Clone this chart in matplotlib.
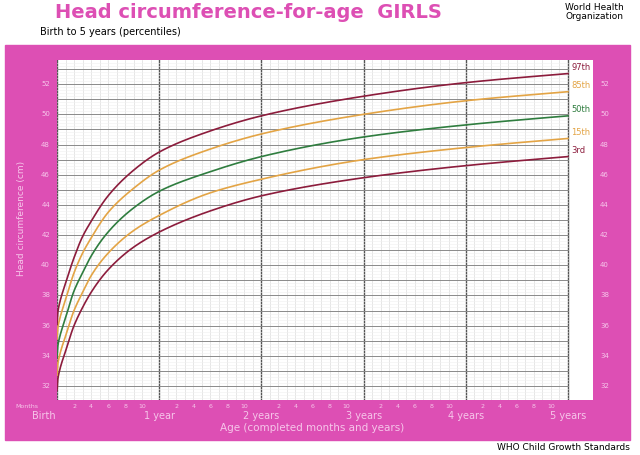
import matplotlib
matplotlib.use("Agg")
import matplotlib.pyplot as plt
import numpy as np

months = [0, 1, 2, 3, 4, 6, 9, 12, 18, 24, 36, 48, 60]
p3  = [31.7, 34.3, 36.0, 37.2, 38.2, 39.7, 41.2, 42.2, 43.6, 44.6, 45.8, 46.6, 47.2]
p15 = [32.7, 35.3, 37.0, 38.2, 39.3, 40.8, 42.3, 43.3, 44.8, 45.7, 47.0, 47.8, 48.4]
p50 = [33.9, 36.5, 38.3, 39.5, 40.6, 42.2, 43.8, 44.9, 46.2, 47.2, 48.5, 49.3, 49.9]
p85 = [35.1, 37.7, 39.5, 40.8, 41.8, 43.5, 45.1, 46.3, 47.7, 48.7, 50.0, 50.9, 51.5]
p97 = [36.1, 38.8, 40.5, 41.9, 42.9, 44.6, 46.3, 47.5, 48.9, 49.9, 51.2, 52.1, 52.7]
labels = ["3rd", "15th", "50th", "85th", "97th"]
year_labels = ["Birth", "1 year", "2 years", "3 years", "4 years", "5 years"]

PINK = "#dd4fb4"
LBL = "#f6c6ea"
dark = "#8c1c3c"; orange = "#e3a445"; green = "#2f7d3f"
colors = [dark, orange, green, orange, dark]

def pchip(x, y, xn):
    x = np.asarray(x, float); y = np.asarray(y, float)
    h = np.diff(x); d = np.diff(y) / h
    m = np.zeros_like(y)
    for k in range(1, len(x)-1):
        if d[k-1]*d[k] > 0:
            w1 = 2*h[k] + h[k-1]; w2 = h[k] + 2*h[k-1]
            m[k] = (w1 + w2) / (w1/d[k-1] + w2/d[k])
    m[0] = d[0]; m[-1] = d[-1]
    idx = np.clip(np.searchsorted(x, xn) - 1, 0, len(x)-2)
    t = (xn - x[idx]) / h[idx]
    h00 = 2*t**3 - 3*t**2 + 1; h10 = t**3 - 2*t**2 + t
    h01 = -2*t**3 + 3*t**2; h11 = t**3 - t**2
    return h00*y[idx] + h10*h[idx]*m[idx] + h01*y[idx+1] + h11*h[idx]*m[idx+1]

fig = plt.figure(figsize=(6.4, 4.55), dpi=100)
fig.patches.append(plt.Rectangle((5/640, 15/455), 625/640, 395/455, transform=fig.transFigure,
                                 color=PINK, zorder=-5))
fig.text(55/640, 1-12/455, "Head circumference-for-age  GIRLS", color=PINK, fontsize=14,
         fontweight="bold", va="center")
fig.text(40/640, 1-32/455, "Birth to 5 years (percentiles)", fontsize=7, va="center")
fig.text(565/640, 1-12/455, "World Health\nOrganization", fontsize=6.5, va="center", linespacing=0.95)
fig.text(630/640, 1-448/455, "WHO Child Growth Standards", fontsize=6.5, ha="right", va="center")

x0, x1 = 57/640, 593/640
y0, y1 = 1-400/455, 1-60/455
ax = fig.add_axes([x0, y0, x1-x0, y1-y0])
ax.set_zorder(5)
ax.set_facecolor("white")
xmax = 60 + 25*(60/511)
ax.set_xlim(0, xmax)
ax.set_ylim(31.07, 53.6)
for m in range(0, 61):
    ax.plot([m, m], [31.07, 53.6], color="#555555" if m % 12 == 0 else "#dcdcdc",
            lw=1.0 if m % 12 == 0 else 0.5, zorder=1)
for v in np.arange(31.2, 53.6, 0.2):
    r = round(v, 1)
    if abs(r - round(r)) < 1e-6:
        ax.plot([0, 60], [r, r], color="#8a8a8a", lw=0.7, zorder=1)
    else:
        ax.plot([0, 60], [r, r], color="#f0f0f0", lw=0.4, zorder=1)
t = np.sqrt(np.array(months, float))
mm = np.linspace(0, 60, 600)
for s, c, l in zip([p3, p15, p50, p85, p97], colors, labels):
    ys = pchip(t, s, np.sqrt(mm))
    ax.plot(mm, ys, color=c, lw=1.2, zorder=3)
    ax.text(60.4, s[-1]+0.1, l, fontsize=6, color=c, va="bottom")
ax.set_xticks([]); ax.set_yticks([])
for sp in ax.spines.values():
    sp.set_visible(False)

for v in range(32, 53, 2):
    yf = y0 + (v-31.07)/(53.6-31.07)*(y1-y0)
    fig.text(50/640, yf, str(v), fontsize=5, color=LBL, ha="right", va="center")
    fig.text(600/640, yf, str(v), fontsize=5, color=LBL, ha="left", va="center")
def xf(m): return x0 + m/xmax*(x1-x0)
fig.text(15/640, 1-407/455, "Months", fontsize=4.5, color=LBL, va="center")
for m in range(1, 60):
    mo = m % 12
    if mo % 2 == 0 and mo != 0:
        fig.text(xf(m), 1-407/455, str(mo), fontsize=4.5, color=LBL, ha="center", va="center")
for i, yl in enumerate(year_labels):
    fig.text(xf(12*i) - (0.02 if i == 0 else 0), 1-416/455, yl, fontsize=7, color=LBL,
             ha="center", va="center")
fig.text(xf(30), 1-428/455, "Age (completed months and years)", fontsize=7.5, color=LBL,
         ha="center", va="center")
fig.text(22/640, 0.52, "Head circumference (cm)", fontsize=6.5, color=LBL, rotation=90,
         ha="center", va="center")
fig.savefig("out.png", dpi=100)
